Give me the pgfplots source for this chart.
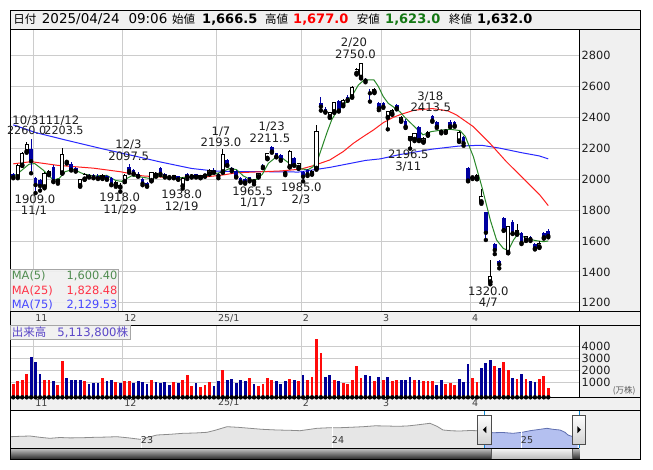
\documentclass[border=0pt]{standalone}
\usepackage{pgfplots}
\pgfplotsset{compat=1.18}
\usepackage{pgfplotstable}
\usepackage{fontspec}
\setmainfont{DejaVu Sans}
\newfontfamily\jp{Noto Sans CJK JP}

\definecolor{cblue}{RGB}{0,0,160}
\definecolor{vblue}{RGB}{0,0,150}
\definecolor{vred}{RGB}{255,10,10}
\definecolor{mafive}{RGB}{40,135,40}
\definecolor{matwf}{RGB}{255,30,30}
\definecolor{masvf}{RGB}{40,40,255}
\definecolor{gridc}{RGB}{204,204,204}
\definecolor{panelbg}{RGB}{240,240,240}
\definecolor{txt}{RGB}{30,30,30}
\definecolor{navgray}{RGB}{230,230,230}
\definecolor{navline}{RGB}{140,140,140}
\definecolor{navblue}{RGB}{180,192,240}
\definecolor{navbline}{RGB}{96,112,176}
\definecolor{legpurple}{RGB}{90,70,200}

\pgfplotsset{
  /pgf/number format/assume math mode=true,
  /pgf/number format/1000 sep={},
  upc/.style={restrict expr to domain={\thisrow{C}-\thisrow{O}}{0:100000}},
  dnc/.style={restrict expr to domain={\thisrow{C}-\thisrow{O}}{-100000:-0.01}},
  volr/.style={restrict expr to domain={\thisrow{U}}{0.5:1.5}},
  volb/.style={restrict expr to domain={\thisrow{U}}{-0.5:0.5}},
  ebar/.style 2 args={only marks, mark=none, forget plot, error bars/.cd, y dir=plus, y explicit, error mark=none, error bar style={draw=#1, line width=#2}},
  panel/.style={scale only axis, width=569bp, xmin=-0.67, xmax=126.96,
    axis line style={black, line width=0.8bp}, major tick length=0pt,
    grid=major, major grid style={gridc, line width=0.8bp},
    xtick={4.55,24.55,45.55,64.55,82.55,102.55}, xticklabels={11,12,25/1,2,3,4},
    xticklabel style={anchor=west, inner sep=0pt, xshift=1.5bp, font=\fontsize{9.5bp}{10bp}\selectfont, text=black!75},
    yticklabel pos=right,
    yticklabel style={anchor=west, inner sep=0pt, xshift=2.2bp, font=\fontsize{11.3bp}{12bp}\selectfont, text=txt},
    scaled ticks=false, axis background/.style={fill=white}, clip=true},
}

\pgfplotstableread{
i O H L C V U
0 2030 2040 2005 2012 865 1
1 2015 2100 2005 2090 1135 1
2 2090 2175 2085 2165 1216 1
3 2178 2240 2170 2225 1757 1
4 2192 2260 2037 2115 3135 0
5 2004 2015 1909 1961 2730 0
6 1995 2000 1925 1955 1757 0
7 1950 2045 1940 2037 1270 1
8 2035 2055 2025 2045 1189 1
9 2080 2090 1980 1987 1108 0
10 1985 2000 1970 1995 784 1
11 2040 2203.5 2035 2155 2811 1
12 2108 2125 2100 2116 1432 0
13 2100 2110 2055 2060 1270 0
14 2072 2080 2048 2052 1189 0
15 1958 2000 1950 1995 1270 0
16 2000 2040 1995 2030 1108 1
17 2028 2035 2010 2015 865 0
18 2025 2030 2005 2010 946 0
19 2018 2030 2000 2005 946 0
20 2008 2030 2000 2025 1432 1
21 2022 2028 1995 2000 1108 0
22 2005 2010 1960 1965 1189 0
23 1962 1985 1950 1975 1027 1
24 1948 1972 1918 1960 946 0
25 1985 2030 1980 2025 1108 1
26 2080 2097.5 2040 2050 1108 1
27 2055 2065 2030 2035 946 0
28 2035 2045 2015 2020 1108 0
29 2000 2005 1960 1970 1027 0
30 1975 1980 1950 1955 865 0
31 1990 2045 1985 2040 1270 1
32 2025 2045 2015 2035 1027 0
33 2070 2080 2025 2033 946 0
34 2030 2040 2010 2018 1027 0
35 2020 2025 2005 2012 784 0
36 2010 2028 2005 2020 1027 1
37 2018 2022 1995 1998 946 0
38 1955 2010 1938 2005 1189 1
39 2030 2040 2000 2015 1676 1
40 2015 2030 2010 2025 703 1
41 2030 2035 2010 2015 946 0
42 2010 2025 2005 2020 622 1
43 2020 2035 2015 2030 784 1
44 2035 2065 2030 2055 1027 1
45 2060 2070 2040 2045 703 0
46 2030 2040 2005 2020 1108 0
47 2047 2193 2040 2155 2081 1
48 2123 2130 2085 2090 1270 0
49 2070 2075 2050 2060 1351 0
50 2052 2060 2010 2015 946 0
51 2004 2010 1975 1983 1189 0
52 2000 2005 1970 1978 1108 0
53 2010 2015 1985 1993 1432 1
54 1983 1995 1965.5 1990 865 0
55 2015 2040 2010 2037 703 1
56 2085 2095 2070 2078 865 1
57 2134 2170 2128 2166 1432 1
58 2205 2211.5 2170 2177 1189 1
59 2166 2170 2140 2145 1108 0
60 2155 2160 2118 2123 865 0
61 2035 2050 2025 2040 1108 0
62 2080 2185 2075 2177 1351 1
63 2134 2140 2085 2090 1189 0
64 2075 2106 2065 2098 1135 1
65 2047 2052 1985 2015 1676 0
66 2058 2065 2020 2030 1189 1
67 2035 2058 2028 2050 1514 1
68 2069 2349 2060 2306 4595 1
69 2493 2528 2442 2467 3459 1
70 2450 2467 2429 2435 1514 0
71 2403 2436 2395 2429 1676 0
72 2435 2500 2428 2493 1189 1
73 2504 2512 2436 2442 1108 0
74 2478 2515 2470 2505 946 1
75 2532 2540 2505 2512 865 1
76 2532 2600 2525 2592 1189 1
77 2683 2715 2675 2708 2405 1
78 2657 2750 2650 2747 1432 1
79 2640 2650 2625 2636 1676 0
80 2556 2579 2500 2554 1595 0
81 2564 2585 2555 2579 1108 1
82 2493 2500 2445 2457 1514 0
83 2489 2495 2460 2467 1189 1
84 2398 2440 2321 2435 1514 0
85 2422 2450 2415 2440 1108 1
86 2478 2484 2450 2457 1189 1
87 2377 2405 2370 2399 1189 0
88 2377 2385 2330 2338 1189 0
89 2260 2280 2196.5 2275 1514 0
90 2256 2300 2245 2295 1270 1
91 2338 2345 2245 2252 1189 0
92 2241 2270 2235 2263 1108 1
93 2285 2310 2280 2300 1108 1
94 2407 2413.5 2370 2377 1108 1
95 2370 2375 2330 2338 784 0
96 2308 2315 2295 2306 1189 0
97 2305 2318 2298 2310 865 1
98 2371 2380 2335 2340 946 1
99 2370 2375 2338 2345 784 1
100 2246 2310 2240 2302 1351 0
101 2274 2280 2215 2231 1027 0
102 2069 2080 1985 1990 2568 0
103 2008 2020 2000 2012 1432 1
104 2004 2030 1998 2024 1027 1
105 1853 1935 1840 1886 2243 0
106 1785 1790 1606 1653 2649 0
107 1336 1476 1320 1373 2892 0
108 1580 1585 1515 1541 2405 1
109 1470 1480 1423 1448 2243 0
110 1750 1755 1665 1670 2730 1
111 1526 1695 1520 1692 2081 1
112 1722 1735 1645 1649 1432 0
113 1649 1712 1640 1664 1351 1
114 1649 1655 1580 1588 1757 0
115 1606 1635 1600 1627 1351 1
116 1625 1630 1600 1610 1108 0
117 1580 1585 1545 1552 1027 0
118 1562 1600 1555 1580 1351 1
119 1653 1660 1615 1623 1595 1
120 1666.5 1677 1623 1632 600 1
}\stock

\begin{document}
\begin{tikzpicture}[x=1bp,y=1bp]
\useasboundingbox (0,0) rectangle (653,-470);
\fill[white] (0,0) rectangle (653,-470);
% background panels
\fill[panelbg] (10.3,-10.7) rectangle (640.7,-29.3);
\fill[panelbg] (579.3,-29.3) rectangle (640.7,-459.3);
\fill[panelbg] (10.3,-311.7) rectangle (640.7,-325);
\fill[panelbg] (10.3,-397.3) rectangle (640.7,-410);

% ---------------- price panel
\begin{axis}[panel, at={(10.3bp,-29.3bp)}, anchor=north west, height=282.4bp,
  ymin=1142.8, ymax=2967.1, ytick={1200,1400,...,2800},
  xticklabel style={yshift=-6.3bp}]
\addplot[masvf, line width=1bp] coordinates {(0,2350)(5,2300)(12,2250)(20,2195)(27,2150)(33,2110)(40,2068)(45,2052)(50,2047)(57,2047)(64,2045)(71,2075)(79,2120)(82.3,2130)(86.7,2158)(94,2193)(100,2213)(105,2218)(109,2200)(114,2170)(118,2149)(120,2130)};
\addplot[matwf, line width=1bp] coordinates {(0,2098)(4,2112)(10,2088)(18,2070)(24,2047)(29,2020)(33,2013)(37,2009)(43,2013)(47,2026)(50,2040)(54,2045)(60,2052)(64.5,2064)(67.5,2088)(71,2123)(74,2177)(76.3,2231)(78.5,2274)(80.8,2317)(83,2364)(85.2,2398)(87,2418)(90,2445)(94,2455)(97.5,2440)(99.4,2414)(103.2,2338)(106.9,2231)(110.6,2112)(114.4,2004)(118.1,1897)(120,1828)};
\addplot[mafive, line width=1bp] coordinates {(0,2015)(1.5,2047)(3.5,2095)(4.8,2100)(6.7,2058)(9,1993)(10.3,2004)(11.6,2047)(13.5,2063)(15.7,2033)(18,2020)(21,2023)(23,1990)(24.3,1985)(26.5,2020)(28.8,2012)(31,2002)(32.9,2018)(34,2015)(36.3,2006)(38.5,2010)(40.8,2015)(43,2020)(45.2,2033)(46.8,2045)(48.6,2069)(50.1,2060)(51.6,2020)(53.4,1993)(54.6,1998)(55.9,2032)(57.2,2101)(58.7,2136)(60.3,2136)(61.9,2101)(63.2,2092)(64.7,2065)(66.1,2060)(67.2,2078)(68.4,2134)(70.3,2295)(71.4,2381)(72.5,2435)(73.7,2467)(74.8,2500)(76.3,2553)(77.4,2607)(78.5,2635)(79.6,2640)(80.9,2640)(81.9,2597)(83,2532)(84.1,2489)(85.2,2467)(86.7,2435)(87.8,2399)(90,2338)(91.9,2285)(93.7,2306)(95.8,2315)(98,2321)(100.2,2313)(101.4,2274)(103.2,2144)(105.1,1950)(107,1735)(108.4,1606)(109.9,1552)(111,1537)(112.2,1606)(113.3,1649)(114.4,1627)(115.9,1610)(117.4,1601)(118.9,1595)(120,1600)};
% wicks
\addplot[dnc, ebar={cblue}{1bp}] table[x=i, y=L, y error plus expr=\thisrow{H}-\thisrow{L}] {\stock};
\addplot[upc, ebar={black}{1bp}] table[x=i, y=L, y error plus expr=\thisrow{H}-\thisrow{L}] {\stock};
% bodies
\addplot[dnc, ebar={cblue}{3.6bp}] table[x=i, y=C, y error plus expr=\thisrow{O}-\thisrow{C}] {\stock};
\addplot[upc, ebar={black}{4.1bp}] table[x=i, y expr=\thisrow{O}-3.5, y error plus expr=\thisrow{C}-\thisrow{O}+7] {\stock};
\addplot[upc, ebar={white}{2.3bp}] table[x=i, y expr=\thisrow{O}+3, y error plus expr={max(\thisrow{C}-\thisrow{O}-6,0)}] {\stock};
\end{axis}

% ---------------- volume panel
\begin{axis}[panel, at={(10.3bp,-325bp)}, anchor=north west, height=72.3bp,
  ymin=-189, ymax=5738, ytick={1000,2000,3000,4000},
  xticklabel style={yshift=-5.6bp}]
\addplot[volr, ebar={vred}{2.8bp}] table[x=i, y expr=-189, y error plus expr=\thisrow{V}+189] {\stock};
\addplot[volb, ebar={vblue}{2.8bp}] table[x=i, y expr=-189, y error plus expr=\thisrow{V}+189] {\stock};
\end{axis}

% ---------------- navigator
\begin{axis}[at={(10.3bp,-410bp)}, anchor=north west, scale only axis, width=569bp, height=38.3bp,
  xmin=10.3, xmax=579.3, ymin=0, ymax=38.3, hide axis, clip=true]
\addplot[fill=navgray, draw=none] coordinates {(10.3,11.6)(20,12)(30,12.3)(40,11)(50,10)(60,10.8)(70,10.4)(83,10.6)(95,11)(105,11.2)(117,11.6)(128,10.5)(140,9)(150,11.5)(157,13.3)(170,14)(183,15)(195,15.3)(207,16)(215,18)(227,21.6)(238,21)(250,20)(262,19)(277,18.3)(290,18)(300,17.6)(310,19)(317,20)(330,20.6)(340,20.6)(350,21)(363,21.6)(375,22.5)(387,22.3)(397,22)(407,22.3)(418,23.5)(430,25)(437,22)(443,18.3)(452,17.5)(460,17.3)(470,17.8)(477,17.6)(484.3,16.5)} \closedcycle;
\addplot[fill=navblue, draw=none] coordinates {(484.3,16.5)(493,15.6)(503,15.8)(513,15)(522,16)(530,17.6)(540,19)(547,20)(553,19)(560,18.3)(565,16)(568,13.3)(573,11.6)(577.7,11)} \closedcycle;
\addplot[navline, line width=0.8bp] coordinates {(10.3,11.6)(20,12)(30,12.3)(40,11)(50,10)(60,10.8)(70,10.4)(83,10.6)(95,11)(105,11.2)(117,11.6)(128,10.5)(140,9)(150,11.5)(157,13.3)(170,14)(183,15)(195,15.3)(207,16)(215,18)(227,21.6)(238,21)(250,20)(262,19)(277,18.3)(290,18)(300,17.6)(310,19)(317,20)(330,20.6)(340,20.6)(350,21)(363,21.6)(375,22.5)(387,22.3)(397,22)(407,22.3)(418,23.5)(430,25)(437,22)(443,18.3)(452,17.5)(460,17.3)(470,17.8)(477,17.6)(484.3,16.5)};
\addplot[navbline, line width=0.8bp] coordinates {(484.3,16.5)(493,15.6)(503,15.8)(513,15)(522,16)(530,17.6)(540,19)(547,20)(553,19)(560,18.3)(565,16)(568,13.3)(573,11.6)(577.7,11)};
\end{axis}

% navigator decorations
\draw[white, line width=0.8bp] (141.5,-425) -- (141.5,-448.3);
\draw[white, line width=0.8bp] (332.3,-425) -- (332.3,-448.3);
\draw[white, line width=0.8bp] (521,-425) -- (521,-448.3);
\begin{scope}[font=\fontsize{9.5bp}{10bp}\selectfont, text=black!80]
\node at (147,-440.3) {23};
\node at (338,-440.3) {24};
\node at (527,-440.3) {25};
\end{scope}
\draw[cyan!70!blue, line width=0.8bp] (484.3,-410) -- (484.3,-448.3);
\draw[cyan!70!blue, line width=0.8bp] (579.3,-410) -- (579.3,-448.3);
% scrollbar
\shade[top color=gray!45, bottom color=black!85] (10.3,-448.3) rectangle (579.3,-459.3);
\shade[top color=gray!8, bottom color=gray!55, draw=gray!70!black, line width=0.5bp] (491.7,-448.6) rectangle (572.3,-459);
% handles
\shade[top color=white, bottom color=gray!35, draw=black!70, line width=0.7bp] (477.7,-415) rectangle (491.7,-444.3);
\shade[top color=white, bottom color=gray!35, draw=black!70, line width=0.7bp] (572.3,-415) rectangle (585.7,-444.3);
\fill[black] (482.8,-429.7) -- (486.3,-426.2) -- (486.3,-433.2) -- cycle;
\fill[black] (580.8,-429.7) -- (577.3,-426.2) -- (577.3,-433.2) -- cycle;

% frames
\draw[black, line width=1bp] (10.3,-10.7) rectangle (640.7,-459.3);
\foreach \yy in {29.3,311.7,325,397.3,410} \draw[black, line width=0.9bp] (10.3,-\yy) -- (640.7,-\yy);
\draw[black, line width=0.8bp] (10.3,-448.3) -- (579.3,-448.3);

% header
\begin{scope}[every node/.style={inner sep=0pt, anchor=base west}]
\node at (13.3,-24) {\jp\fontsize{11.5bp}{12bp}\selectfont 日付};
\node at (41.7,-24) {\fontsize{13.5bp}{14bp}\selectfont 2025/04/24};
\node at (128.3,-24) {\fontsize{13.5bp}{14bp}\selectfont 09:06};
\node at (172,-24) {\jp\fontsize{11.5bp}{12bp}\selectfont 始値};
\node at (202,-24) {\fontsize{13bp}{14bp}\selectfont\bfseries 1,666.5};
\node at (265,-24) {\jp\fontsize{11.5bp}{12bp}\selectfont 高値};
\node[text=red] at (293,-24) {\fontsize{13bp}{14bp}\selectfont\bfseries 1,677.0};
\node at (356.7,-24) {\jp\fontsize{11.5bp}{12bp}\selectfont 安値};
\node[text={rgb,255:red,20;green,120;blue,20}] at (385,-24) {\fontsize{13bp}{14bp}\selectfont\bfseries 1,623.0};
\node at (449,-24) {\jp\fontsize{11.5bp}{12bp}\selectfont 終値};
\node at (477,-24) {\fontsize{13bp}{14bp}\selectfont\bfseries 1,632.0};
\end{scope}

% price annotations
\begin{scope}[every node/.style={inner sep=0pt, anchor=center, text height=8.4bp, text depth=0pt, text=txt, font=\fontsize{11.6bp}{12bp}\selectfont}]
\node at (29.2,-120) {10/31};
\node[font=\fontsize{11.2bp}{12bp}\selectfont] at (26.6,-130.7) {2260.0};
\node at (62.5,-120) {11/12};
\node[font=\fontsize{11.2bp}{12bp}\selectfont] at (64,-130.7) {2203.5};
\node at (128.5,-144.3) {12/3};
\node at (128.7,-156.7) {2097.5};
\node at (221,-131.2) {1/7};
\node at (221,-142.2) {2193.0};
\node at (271.7,-126.7) {1/23};
\node at (270,-138.3) {2211.5};
\node at (35,-199) {1909.0};
\node at (34,-210) {11/1};
\node at (119.7,-197.7) {1918.0};
\node at (120,-209.3) {11/29};
\node at (181.7,-194.3) {1938.0};
\node at (181.7,-206.7) {12/19};
\node at (252.7,-191) {1965.5};
\node at (253,-202.7) {1/17};
\node at (301.3,-187.7) {1985.0};
\node at (301,-199.3) {2/3};
\node at (354,-42.7) {2/20};
\node at (355.5,-54) {2750.0};
\node at (430.3,-96.7) {3/18};
\node at (430.8,-107.3) {2413.5};
\node at (408.3,-154.3) {2196.5};
\node at (408.3,-166.7) {3/11};
\node at (488.3,-291) {1320.0};
\node at (488.3,-302.7) {4/7};
\end{scope}

% MA legend
\fill[panelbg, opacity=0.9] (10.7,-269.3) rectangle (118.3,-311.2);
\draw[gray!70, line width=0.7bp] (10.7,-311.2) -- (10.7,-269.3) -- (118.3,-269.3) -- (118.3,-311.2);
\begin{scope}[every node/.style={inner sep=0pt, text height=8.4bp, text depth=0pt, font=\fontsize{11.4bp}{12bp}\selectfont}]
\node[anchor=west, text={rgb,255:red,80;green,140;blue,80}] at (11.7,-275.8) {MA(5)};
\node[anchor=east, text={rgb,255:red,80;green,140;blue,80}] at (117.7,-275.8) {1,600.40};
\node[anchor=west, text={rgb,255:red,255;green,50;blue,70}] at (11.7,-290) {MA(25)};
\node[anchor=east, text={rgb,255:red,255;green,50;blue,70}] at (117.7,-290) {1,828.48};
\node[anchor=west, text={rgb,255:red,70;green,70;blue,255}] at (11.7,-304) {MA(75)};
\node[anchor=east, text={rgb,255:red,70;green,70;blue,255}] at (117.7,-304) {2,129.53};
\end{scope}

% volume legend
\fill[panelbg, opacity=0.9] (10.7,-325.4) rectangle (130.7,-339.3);
\draw[gray!70, line width=0.7bp] (10.7,-325.4) rectangle (130.7,-339.3);
\node[anchor=west, inner sep=0pt, text=legpurple] at (11.7,-332.3) {\jp\fontsize{11.5bp}{12bp}\selectfont 出来高};
\node[anchor=west, inner sep=0pt, text=legpurple] at (57.3,-332.3) {\fontsize{11.6bp}{12bp}\selectfont 5,113,800\jp 株};
\node[anchor=center, inner sep=0pt, text=black!65] at (624.2,-390.7) {\jp\fontsize{8.5bp}{9bp}\selectfont (万株)};
\end{tikzpicture}
\end{document}
